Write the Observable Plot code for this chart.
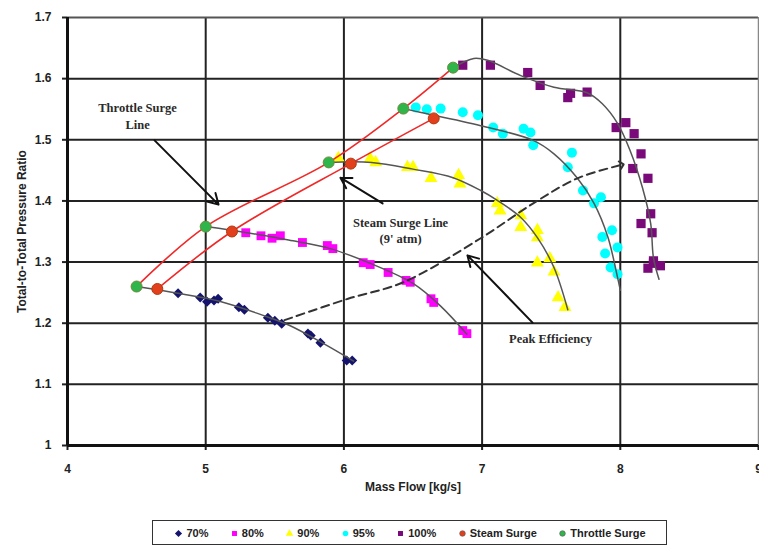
<!DOCTYPE html>
<html><head><meta charset="utf-8">
<script src="https://cdn.jsdelivr.net/npm/d3@7"></script>
<script src="https://cdn.jsdelivr.net/npm/@observablehq/plot@0.6"></script>
<style>
body{margin:0;background:#fff;}
#wrap{position:relative;width:759px;height:546px;overflow:hidden;}
#legend{position:absolute;left:152px;top:520px;width:515px;height:25px;border:1.5px solid #333;box-sizing:border-box;display:flex;align-items:center;justify-content:space-evenly;font:bold 11px "Liberation Sans",Arial,sans-serif;color:#222;background:#fff;}
#legend span{display:inline-flex;align-items:center;gap:3px;white-space:nowrap;}
</style></head>
<body><div id="wrap"><div id="chart"></div><div id="legend"></div></div>
<script>
// ---- Data ----
const xTicks = [4, 5, 6, 7, 8, 9];
const yTicks = [1, 1.1, 1.2, 1.3, 1.4, 1.5, 1.6, 1.7];

const flow70 = [4.80,4.96,5.01,5.06,5.09,5.24,5.28,5.45,5.50,5.55,5.74,5.76,5.83,6.02,6.06];
const pr70   = [1.249,1.242,1.235,1.237,1.240,1.226,1.222,1.209,1.204,1.199,1.183,1.180,1.168,1.139,1.139];

const flow80 = [5.29,5.40,5.48,5.54,5.70,5.88,5.92,6.14,6.19,6.32,6.45,6.48,6.63,6.65,6.86,6.89];
const pr80   = [1.348,1.343,1.339,1.343,1.332,1.327,1.322,1.299,1.296,1.283,1.270,1.267,1.240,1.234,1.188,1.183];

const flow90 = [5.96,6.19,6.23,6.46,6.50,6.63,6.83,6.84,7.11,7.13,7.28,7.28,7.40,7.40,7.49,7.40,7.52,7.55,7.60];
const pr90   = [1.470,1.469,1.463,1.455,1.455,1.437,1.442,1.428,1.396,1.384,1.376,1.357,1.352,1.340,1.306,1.299,1.284,1.242,1.226];

const flow95 = [6.52,6.60,6.70,6.86,6.97,7.08,7.15,7.30,7.35,7.37,7.65,7.62,7.73,7.81,7.86,7.94,7.87,7.98,7.89,7.93,7.98];
const pr95   = [1.553,1.550,1.551,1.545,1.540,1.520,1.510,1.518,1.512,1.491,1.479,1.455,1.417,1.396,1.406,1.352,1.341,1.324,1.314,1.291,1.280];

const flow100 = [6.86,7.06,7.33,7.42,7.62,7.64,7.76,7.97,8.04,8.10,8.15,8.09,8.20,8.22,8.15,8.23,8.24,8.20,8.29,8.24];
const pr100   = [1.622,1.622,1.610,1.589,1.569,1.576,1.578,1.520,1.528,1.510,1.477,1.453,1.437,1.379,1.363,1.348,1.298,1.290,1.294,1.302];

const steamFlow = [4.65,5.19,6.05,6.65];
const steamPR   = [1.256,1.350,1.461,1.535];
const throttleFlow = [4.50,5.00,5.89,6.43,6.79];
const throttlePR   = [1.260,1.358,1.463,1.551,1.618];

// fitted speed lines
const fit70x = [4.50,4.80,5.10,5.40,5.60,5.85,6.07];
const fit70y = [1.260,1.249,1.236,1.214,1.197,1.167,1.138];
const fit80x = [5.00,5.30,5.60,5.90,6.20,6.50,6.70,6.89];
const fit80y = [1.358,1.348,1.336,1.322,1.297,1.265,1.228,1.182];
const fit90x = [5.89,6.20,6.50,6.79,6.99,7.11,7.28,7.40,7.52,7.62];
const fit90y = [1.463,1.463,1.452,1.438,1.417,1.401,1.373,1.340,1.291,1.222];
const fit95x = [6.43,6.55,6.99,7.37,7.52,7.69,7.81,7.91,7.98,8.00];
const fit95y = [1.551,1.545,1.523,1.499,1.477,1.437,1.396,1.341,1.275,1.254];
const fit100x = [6.79,6.94,7.04,7.28,7.52,7.76,7.87,7.98,8.07,8.16,8.22,8.24,8.28];
const fit100y = [1.618,1.633,1.630,1.605,1.586,1.577,1.559,1.527,1.483,1.422,1.363,1.307,1.272];

const peakFlow = [5.57,6.03,6.43,6.99,7.37,7.69,8.01];
const peakPR   = [1.205,1.240,1.267,1.339,1.396,1.437,1.459];

const noteText = ["Throttle Surge\nLine", "Steam Surge Line\n(9' atm)", "Peak Efficiency"];
const noteX = [4.507, 6.41, 7.495];
const noteY = [1.541, 1.353, 1.177];
const arrowX1 = [4.63, 6.28, 7.365];
const arrowY1 = [1.499, 1.396, 1.201];
const arrowX2 = [5.093, 5.975, 6.894];
const arrowY2 = [1.394, 1.438, 1.311];

const seriesNames = ["70%","80%","90%","95%","100%","Steam Surge","Throttle Surge"];
const seriesColors = ["#14146e","#ff00ff","#ffff00","#00ffff","#7a0a7a","#e2401c","#2fb54a"];
const seriesSymbols = ["diamond2","square","triangle","circle","square","circle","circle"];

// ---- helpers ----
const pts = (xs, ys) => xs.map((x, i) => ({x, y: ys[i]}));
const FONT = '"Liberation Sans", Arial, sans-serif';

const chart = Plot.plot({
  width: 759, height: 516,
  marginLeft: 67, marginRight: 1, marginTop: 17, marginBottom: 71,
  x: {domain: [4, 9]},
  y: {domain: [1, 1.7]},
  style: {fontFamily: FONT, fontSize: "12px", fontWeight: "bold", color: "#222", background: "#fff", overflow: "visible"},
  marks: [
    Plot.gridX(xTicks.slice(1, -1), {stroke: "#222", strokeOpacity: 1, strokeWidth: 2}),
    Plot.gridY(yTicks.slice(1, -1), {stroke: "#222", strokeOpacity: 1, strokeWidth: 2}),
    Plot.ruleY([1.7], {stroke: "#555", strokeWidth: 2}),
    Plot.ruleX([9], {stroke: "#888", strokeWidth: 1.5}),
    Plot.axisX(xTicks, {tickSize: 5, tickPadding: 14, strokeWidth: 2, tickFormat: d => String(d), label: "Mass Flow [kg/s]", labelAnchor: "center", labelOffset: 45, labelArrow: "none"}),
    Plot.axisY(yTicks, {tickSize: 5, tickPadding: 11, strokeWidth: 2, tickFormat: d => String(d), label: "Total-to-Total Pressure Ratio", labelAnchor: "center", labelOffset: 50, labelArrow: "none"}),
    Plot.ruleX([4], {stroke: "#111", strokeWidth: 3}),
    Plot.ruleY([1], {stroke: "#111", strokeWidth: 3}),
    // measured points
    Plot.dot(pts(flow70, pr70), {x: "x", y: "y", symbol: "diamond2", r: 4.5, fill: seriesColors[0]}),
    Plot.dot(pts(flow80, pr80), {x: "x", y: "y", symbol: "square", r: 5, fill: seriesColors[1]}),
    Plot.dot(pts(flow90, pr90), {x: "x", y: "y", symbol: "triangle", r: 4.8, fill: seriesColors[2]}),
    Plot.dot(pts(flow95, pr95), {x: "x", y: "y", symbol: "circle", r: 5, fill: seriesColors[3]}),
    Plot.dot(pts(flow100, pr100), {x: "x", y: "y", symbol: "square", r: 5.2, fill: seriesColors[4]}),
    // fitted speed lines
    ...[[fit70x, fit70y],[fit80x, fit80y],[fit90x, fit90y],[fit95x, fit95y],[fit100x, fit100y]].map(([xs, ys]) =>
      Plot.line(pts(xs, ys), {x: "x", y: "y", curve: "catmull-rom", stroke: "#555", strokeWidth: 1.5})),
    // surge lines
    Plot.line(pts(throttleFlow, throttlePR), {x: "x", y: "y", curve: "catmull-rom", stroke: "#f02828", strokeWidth: 1.6}),
    Plot.line(pts(steamFlow, steamPR), {x: "x", y: "y", curve: "catmull-rom", stroke: "#f02828", strokeWidth: 1.6}),
    Plot.dot(pts(steamFlow, steamPR), {x: "x", y: "y", r: 5.5, fill: seriesColors[5], stroke: "#b03a10", strokeWidth: 1}),
    Plot.dot(pts(throttleFlow, throttlePR), {x: "x", y: "y", r: 5.5, fill: seriesColors[6], stroke: "#6a8a3a", strokeWidth: 1}),
    // peak efficiency line
    Plot.line(pts(peakFlow, peakPR), {x: "x", y: "y", curve: "catmull-rom", stroke: "#333", strokeWidth: 2, strokeDasharray: "8,5", markerEnd: "arrow"}),
    // annotations
    Plot.arrow(arrowX1.map((x, i) => ({x1: x, y1: arrowY1[i], x2: arrowX2[i], y2: arrowY2[i]})),
      {x1: "x1", y1: "y1", x2: "x2", y2: "y2", stroke: "#111", strokeWidth: 2, headLength: 9}),
    Plot.text(noteText.map((t, i) => ({t, x: noteX[i], y: noteY[i]})),
      {x: "x", y: "y", text: "t", fontFamily: '"Liberation Serif", "Times New Roman", serif', fontSize: 12.5, fontWeight: "bold", fill: "#2a2a2a", lineHeight: 1.35})
  ]
});
document.getElementById("chart").appendChild(chart);

// legend
const legend = document.getElementById("legend");
const symSvg = (sym, color) => {
  const s = Plot.plot({width: 10, height: 10, margin: 0, x: {domain: [0, 1], axis: null}, y: {domain: [0, 1], axis: null},
    marks: [Plot.dot([{a: 0.5}], {x: "a", y: "a", symbol: sym, r: sym === "diamond2" ? 3.2 : 2.8, fill: color,
      stroke: sym === "circle" && (color === seriesColors[5] || color === seriesColors[6]) ? "#555" : "none", strokeWidth: 0.6})]});
  s.style.overflow = "visible";
  return s;
};
seriesNames.forEach((n, i) => {
  const span = document.createElement("span");
  span.appendChild(symSvg(seriesSymbols[i], seriesColors[i]));
  span.appendChild(document.createTextNode(n));
  legend.appendChild(span);
});
</script>
</body></html>
